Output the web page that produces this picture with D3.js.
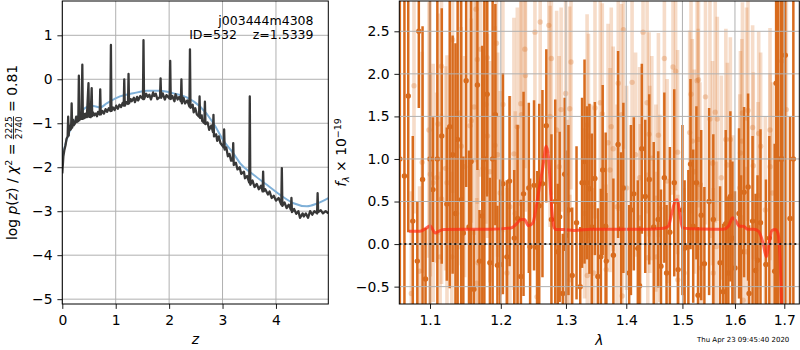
<!DOCTYPE html>
<html>
<head>
<meta charset="utf-8">
<script src="https://cdn.jsdelivr.net/npm/d3@7"></script>
<style>
  body { margin: 0; background: #fff; }
  svg { font-family: "DejaVu Sans", sans-serif; }
</style>
</head>
<body>
<div id="chart"></div>
<script>
// ---- left panel: log p(z) ----
const pzZ = [0,0.02,0.04,0.06,0.08,0.10,0.11,0.12,0.15,0.165,0.175,0.185,0.21,0.24,0.27,0.30,0.31,0.32,0.36,0.375,0.385,0.42,0.46,0.49,0.50,0.53,0.55,0.56,0.60,0.65,0.70,0.71,0.72,0.78,0.84,0.90,0.91,0.92,0.98,1.04,1.10,1.15,1.16,1.17,1.23,1.24,1.25,1.30,1.36,1.42,1.51,1.52,1.53,1.60,1.66,1.72,1.78,1.83,1.84,1.85,1.92,2.01,2.02,2.03,2.10,2.16,2.22,2.23,2.24,2.30,2.38,2.39,2.40,2.46,2.52,2.56,2.57,2.58,2.62,2.66,2.67,2.68,2.75,2.82,2.83,2.84,2.90,2.96,3.02,3.03,3.04,3.10,3.16,3.19,3.20,3.21,3.28,3.35,3.42,3.50,3.51,3.52,3.60,3.68,3.75,3.76,3.77,3.85,3.92,4.00,4.10,4.11,4.12,4.20,4.28,4.29,4.30,4.38,4.45,4.52,4.60,4.68,4.77,4.78,4.79,4.88,4.98];
const pzLog = [-2.14,-1.75,-1.60,-1.50,-1.35,-1.30,-0.85,-1.28,-1.15,-1.12,-0.55,-1.10,-1.05,-1.00,-0.97,-0.95,0.08,-0.93,-0.90,0.33,-0.90,-0.88,-0.86,-0.09,-0.85,-0.86,-0.20,-0.84,-0.82,-0.84,-0.80,-0.23,-0.80,-0.78,-0.74,-0.72,0.78,-0.72,-0.70,-0.67,-0.63,-0.60,0.00,-0.60,-0.56,0.12,-0.55,-0.50,-0.52,-0.48,-0.45,0.89,-0.45,-0.40,-0.46,-0.38,-0.45,-0.40,0.02,-0.42,-0.46,-0.44,0.42,-0.45,-0.50,-0.46,-0.50,0.00,-0.55,-0.55,-0.62,0.68,-0.65,-0.75,-0.80,-0.85,-0.39,-0.88,-0.95,-1.00,-0.51,-1.02,-1.15,-1.20,-0.81,-1.30,-1.40,-1.45,-1.55,-1.14,-1.60,-1.75,-1.85,-1.85,-1.45,-1.95,-2.05,-2.15,-2.25,-2.35,-0.39,-2.40,-2.45,-2.50,-2.55,-2.10,-2.55,-2.62,-2.70,-2.76,-2.85,-2.02,-2.88,-2.93,-2.97,-2.70,-3.02,-3.06,-3.15,-3.12,-3.15,-3.08,-3.05,-2.59,-3.02,-3.05,-3.05];
// small wiggles on top of the p(z) curve
const wiggleZ = [0.13,0.20,0.26,0.34,0.40,0.44,0.58,0.63,0.67,0.75,0.81,0.87,0.95,1.01,1.07,1.13,1.20,1.28,1.34,1.40,1.46,1.57,1.63,1.70,1.75,1.88,1.95,2.06,2.12,2.19,2.27,2.34,2.44,2.49,2.61,2.72,2.79,2.88,2.93,3.07,3.13,3.25,3.32,3.40,3.46,3.56,3.64,3.72,3.80,3.88,3.96,4.05,4.16,4.24,4.34,4.42,4.50,4.56,4.64,4.72,4.84,4.93];
const wiggleLog = [-1.05,-0.92,-0.85,-0.8,-0.78,-0.78,-0.76,-0.78,-0.74,-0.72,-0.68,-0.66,-0.64,-0.60,-0.58,-0.54,-0.52,-0.45,-0.42,-0.40,-0.38,-0.33,-0.35,-0.30,-0.33,-0.32,-0.36,-0.38,-0.34,-0.40,-0.42,-0.48,-0.58,-0.66,-0.82,-0.98,-1.05,-1.25,-1.30,-1.55,-1.70,-1.90,-2.0,-2.1,-2.2,-2.3,-2.38,-2.42,-2.5,-2.55,-2.65,-2.7,-2.8,-2.85,-2.95,-3.0,-3.05,-3.05,-3.0,-3.0,-2.98,-3.0];
const priorZ = [0,0.08,0.21,0.36,0.49,0.58,0.71,0.83,1.08,1.33,1.58,1.83,2.08,2.33,2.58,2.83,3.01,3.20,3.33,3.58,3.83,4.08,4.33,4.58,4.76,4.98];
const priorLog = [-1.76,-1.38,-1.00,-0.73,-0.62,-0.61,-0.64,-0.55,-0.39,-0.32,-0.26,-0.26,-0.32,-0.41,-0.62,-1.00,-1.38,-1.68,-1.91,-2.17,-2.40,-2.63,-2.82,-2.89,-2.83,-2.70];
const zTicks = [0, 1, 2, 3, 4];
const logTicks = [-5, -4, -3, -2, -1, 0, 1];

// ---- right panel: spectrum ----
const darkWave = [1.060,1.066,1.071,1.077,1.083,1.085,1.090,1.094,1.100,1.104,1.110,1.116,1.123,1.127,1.131,1.135,1.138,1.143,1.146,1.150,1.154,1.157,1.161,1.166,1.169,1.173,1.176,1.180,1.184,1.188,1.192,1.195,
  1.199,1.203,1.209,1.213,1.220,1.225,1.230,1.234,1.242,1.244,1.250,1.255,1.258,1.263,1.269,1.277,1.283,1.287,1.290,1.295,1.298,1.300,1.304,1.310,1.317,1.323,1.326,1.330,1.334,1.338,1.342,1.347,1.352,
  1.357,1.360,1.365,1.366,1.378,1.386,1.391,1.395,1.405,1.408,1.413,1.420,1.423,1.427,1.433,1.440,1.448,1.456,1.461,1.467,1.471,1.477,1.485,1.492,1.500,1.504,1.511,1.515,1.520,1.526,
  1.529,1.535,1.541,1.550,1.558,1.571,1.577,1.582,1.587,1.591,1.595,1.600,1.608,1.612,1.618,1.626,1.628,1.635,1.641,1.645,1.651,1.662,1.669,1.680,1.683,1.687,1.693,1.696,1.702,1.712,1.719];
const darkFlux = [1.0,0.8,1.74,0.27,-0.2,2.5,0.76,-0.41,1.0,0.64,1.0,1.27,0.47,1.38,1.05,0.36,1.23,0.52,0.13,1.92,0.2,0.97,-0.53,1.87,-0.2,0.33,1.0,1.76,-0.22,1.0,1.52,-0.25,
  -0.24,0.71,-0.15,0.74,0.07,0.3,-0.38,0.59,0.66,-0.03,0.69,-0.04,0.45,0.71,1.39,0.29,0.5,-0.09,0.32,-0.58,0.82,0.1,0.40,-0.37,0.25,-0.50,0.72,0.97,0.72,0.65,0.2,0.77,-0.38,
  -0.15,0.87,0.21,-0.20,-0.13,1.17,0.18,0.66,-0.34,0.40,0.59,-0.05,-0.49,1.12,0.56,0.76,0.2,0.29,-0.26,0.78,-0.34,0.14,0.72,-0.30,0.4,-0.05,-0.03,0.94,0.21,0.72,
  -0.60,0.34,-0.23,0.5,0.29,-0.22,-0.56,0.24,-0.34,0.56,0.07,-0.28,0.36,-0.09,0.61,0.67,-0.58,0.27,-0.31,-0.19,0.25,-0.24,0.07,-0.32,1.89,1.0,1.0,1.0,2.22,0.3,1.0];
const darkErr = [3.0,3.0,1.6,1.0,0.7,0.9,1.8,0.6,3.0,0.85,3.0,1.5,0.9,1.9,1.4,2.0,2.0,2.4,0.9,1.25,0.9,1.9,0.7,1.0,0.6,2.0,3.0,1.2,1.0,3.0,1.3,0.7,
  1.0,1.3,0.9,1.0,0.8,1.1,0.9,1.2,1.0,0.8,1.0,0.9,1.2,1.1,0.9,1.0,1.2,0.8,1.0,0.7,0.9,1.0,1.0,0.8,0.9,0.7,1.0,1.2,0.9,1.0,1.1,0.9,0.8,
  0.8,1.0,1.1,0.8,0.9,1.1,0.9,1.0,0.8,1.0,0.9,0.8,0.7,1.0,0.9,1.0,1.0,0.8,0.9,1.0,0.8,1.0,1.1,0.8,1.0,0.8,0.9,1.0,0.9,0.9,
  0.8,1.0,0.9,1.1,1.0,0.9,0.8,1.1,0.9,1.0,0.9,0.9,1.0,0.9,1.0,1.1,0.8,1.0,0.9,1.0,1.1,1.0,1.2,1.5,3.0,4.0,4.0,4.0,4.0,1.2,4.0];

const lightWave = [1.0751,1.0786,1.0860,1.0895,1.0986,1.1004,1.1043,1.1090,1.1110,1.1138,1.1156,1.1157,1.1213,1.1232,1.1299,1.1309,1.1366,1.1403,1.1431,1.1479,1.1555,1.1573,1.1612,1.1640,1.1650,1.1659,1.1669,1.1707,1.1744,1.1782,1.1801,1.1805,1.1839,1.1915,1.1935,1.1953,
  1.1991,1.2031,1.2092,1.2134,1.2195,1.2215,1.2246,1.2298,1.2308,1.2360,1.2369,1.2514,1.2545,1.2595,1.2729,1.2749,1.2769,1.2852,1.2892,1.2923,1.2995,1.3016,1.3060,1.3062,1.3081,1.3300,1.3342,1.3345,1.3364,1.3408,1.3451,1.3472,
  1.3560,1.3593,1.3658,1.3690,1.3723,1.3744,1.3777,1.3842,1.3863,1.3919,1.3930,1.3951,1.4005,1.4100,1.4161,1.4232,1.4243,1.4291,1.4363,1.4375,1.4398,1.4411,1.4446,1.4518,1.4529,1.4564,1.4589,1.4671,1.4720,1.4827,1.4875,1.4911,1.4915,1.5031,1.5134,1.5159,1.5184,1.5222,1.5273,
  1.5293,1.5299,1.5326,1.5350,1.5431,1.5516,1.5565,1.5580,1.5617,1.5637,1.5656,1.5734,1.5822,1.5852,1.5910,1.5962,1.5965,1.6095,1.6108,1.6136,1.6148,1.6162,1.6229,1.6231,1.6258,1.6351,1.6365,1.6460,1.6473,1.6513,1.6608,1.6704,1.6706,1.6756,1.6907,1.6947,1.7043];
const lightFlux = [-0.58,1.86,-0.32,0.96,1.34,0.82,0.72,0.78,1.41,-0.15,2.09,0.53,0.89,0.72,-0.15,2.40,0.36,1.54,1.15,0.91,1.39,1.45,1.61,2.76,-0.46,2.17,-0.22,2.29,0.89,1.64,2.19,1.27,0.85,1.16,2.36,1.05,
  0.60,1.64,-0.34,0.44,1.06,0.36,1.38,1.65,1.52,2.29,1.98,2.49,-0.62,2.61,2.57,1.50,2.18,1.34,0.91,1.58,1.77,0.36,1.59,-0.42,2.14,0.36,1.40,-0.37,1.27,0.44,-0.34,1.60,
  1.66,1.53,-0.30,1.19,0.87,1.38,1.12,0.44,1.89,1.52,-0.61,2.52,0.66,1.90,1.05,0.78,0.31,2.49,1.66,-0.16,1.29,0.76,1.01,0.54,-0.15,1.28,0.42,2.18,0.74,2.08,2.03,1.08,-0.42,-0.34,1.31,1.76,1.21,0.85,1.92,
  1.23,1.93,0.70,-0.28,1.73,1.47,0.95,-0.34,1.55,-0.03,1.47,0.78,1.23,0.93,1.23,0.28,-0.50,0.66,1.07,1.21,1.54,-0.66,1.48,-0.09,1.57,1.37,0.92,0.57,1.30,1.15,0.40,1.34,0.91,0.60,1.54,2.15,1.58];
const lightErr = [1.2,1.5,1.0,1.3,1.5,1.2,1.4,1.0,1.3,1.0,1.6,1.0,1.2,1.5,1.0,1.8,1.2,1.6,1.4,1.3,1.5,1.2,1.5,1.8,1.0,1.7,1.1,1.5,1.4,1.4,1.6,1.2,1.3,1.4,1.6,1.2,
  1.2,1.5,1.0,1.3,1.6,1.2,1.4,1.2,1.5,1.4,1.6,1.5,1.0,1.6,1.5,1.3,1.6,1.4,1.3,1.2,1.6,1.1,1.2,1.0,1.5,1.0,1.3,1.0,1.2,1.2,1.0,1.3,
  1.5,1.3,1.0,1.4,1.2,1.4,1.2,1.2,1.5,1.3,1.0,1.4,1.2,1.4,1.2,1.3,1.1,1.5,1.3,1.0,1.2,1.1,1.2,1.1,1.0,1.2,1.1,1.4,1.2,1.5,1.4,1.2,1.0,1.0,1.2,1.4,1.2,1.2,1.4,
  1.3,1.5,1.2,1.0,1.5,1.4,1.2,1.0,1.3,1.0,1.2,1.2,1.3,1.2,1.2,1.0,1.0,1.1,1.2,1.2,1.3,1.0,1.3,1.0,1.3,1.2,1.1,1.1,1.2,1.1,1.1,1.2,1.1,1.3,2.5,3.0,3.0];

const modelWave = [1.0718,1.0864,1.0955,1.1000,1.1024,1.1071,1.1118,1.1189,1.1474,1.1853,1.2149,1.2226,1.2303,1.2354,1.2415,1.2483,1.2534,1.2585,1.2637,1.2688,1.2723,1.2765,1.2806,1.2842,1.2969,1.3130,1.3402,1.3782,1.4357,1.4654,1.4743,1.4804,1.4863,1.4904,1.4952,1.5000,1.5140,1.5586,1.5777,1.5872,1.5956,1.6020,1.6087,1.6168,1.6249,1.6371,1.6473,1.6562,1.6629,1.6684,1.6744,1.6811,1.6866,1.6913,1.6947];
const modelFlux = [0.15,0.15,0.19,0.215,0.19,0.13,0.15,0.17,0.175,0.175,0.19,0.23,0.29,0.29,0.215,0.25,0.44,0.68,0.91,1.15,1.03,0.52,0.21,0.17,0.17,0.16,0.175,0.175,0.175,0.185,0.21,0.36,0.50,0.52,0.36,0.19,0.18,0.175,0.175,0.21,0.31,0.27,0.21,0.21,0.175,0.175,0.15,0.01,-0.15,0.01,0.16,0.17,0.13,-0.18,-0.8];
const waveTicks = [1.1, 1.2, 1.3, 1.4, 1.5, 1.6, 1.7];
const fluxTicks = [-0.5, 0, 0.5, 1.0, 1.5, 2.0, 2.5];

const W = 800, H = 350;
const tickFont = "13.9px";
const orange = "#d86b1d";
const gridColor = "#b0b0b0";

const svg = d3.select("#chart").append("svg")
  .attr("width", W).attr("height", H);

const defs = svg.append("defs");
defs.append("clipPath").attr("id", "clipL").append("rect")
  .attr("x", 62.3).attr("y", 1).attr("width", 266).attr("height", 303);
defs.append("clipPath").attr("id", "clipR").append("rect")
  .attr("x", 399.3).attr("y", 1).attr("width", 400).attr("height", 303);

// scales
const lx = d3.scaleLinear().domain([0, 4.98]).range([62.3, 328.3]);
const ly = d3.scaleLinear().domain([-5.11, 1.78]).range([304, 1]);
const rx = d3.scaleLog().domain([1.0593, 1.7316]).range([399.3, 799.3]);
const ry = d3.scaleLinear().domain([-0.704, 2.856]).range([304, 1]);

function grid(g, xs, ys, xt, yt) {
  g.selectAll(".gx").data(xt).join("line")
    .attr("x1", d => xs(d)).attr("x2", d => xs(d))
    .attr("y1", ys.range()[0]).attr("y2", ys.range()[1])
    .attr("stroke", gridColor).attr("stroke-width", 1);
  g.selectAll(".gy").data(yt).join("line")
    .attr("y1", d => ys(d)).attr("y2", d => ys(d))
    .attr("x1", xs.range()[0]).attr("x2", xs.range()[1])
    .attr("stroke", gridColor).attr("stroke-width", 1);
}

function axes(xs, ys, xt, yt, xfmt, yfmt) {
  const gx = svg.append("g").attr("transform", `translate(0,${ys.range()[0]})`)
    .call(d3.axisBottom(xs).tickValues(xt).tickFormat(xfmt).tickSize(4.9).tickPadding(6.6));
  const gy = svg.append("g").attr("transform", `translate(${xs.range()[0]},0)`)
    .call(d3.axisLeft(ys).tickValues(yt).tickFormat(yfmt).tickSize(4.9).tickPadding(4.9));
  [gx, gy].forEach(g => {
    g.select(".domain").remove();
    g.selectAll("text").style("font-size", tickFont).style("font-family", "DejaVu Sans").attr("fill", "#000");
    g.selectAll("line").attr("stroke", "#000").attr("stroke-width", 0.9);
  });
  svg.append("rect")
    .attr("x", xs.range()[0]).attr("y", ys.range()[1])
    .attr("width", xs.range()[1] - xs.range()[0])
    .attr("height", ys.range()[0] - ys.range()[1])
    .attr("fill", "none").attr("stroke", "#000").attr("stroke-width", 1);
}

// ---- left panel ----
const gl = svg.append("g");
grid(gl, lx, ly, zTicks, logTicks);

const plotL = svg.append("g").attr("clip-path", "url(#clipL)");
const pzPts = pzZ.map((z, i) => [z, pzLog[i]])
  .concat(wiggleZ.map((z, i) => [z, wiggleLog[i]]))
  .sort((a, b) => a[0] - b[0]);
plotL.append("path")
  .datum(priorZ.map((z, i) => [z, priorLog[i]]))
  .attr("d", d3.line().x(d => lx(d[0])).y(d => ly(d[1])).curve(d3.curveMonotoneX))
  .attr("fill", "none").attr("stroke", "#7fb0d8").attr("stroke-width", 2);
plotL.append("path")
  .datum(pzPts)
  .attr("d", d3.line().x(d => lx(d[0])).y(d => ly(d[1])))
  .attr("fill", "none").attr("stroke", "#383838").attr("stroke-width", 2.3)
  .attr("stroke-linejoin", "round");

axes(lx, ly, zTicks, logTicks, d3.format("d"), d3.format("d"));

svg.append("text").attr("x", 313.5).attr("y", 24.5)
  .attr("text-anchor", "end").style("font-size", "12.5px").text("j003444m4308");
svg.append("text").attr("x", 313.5).attr("y", 39)
  .attr("text-anchor", "end").style("font-size", "12.5px").attr("xml:space", "preserve")
  .text("ID=532    z=1.5339");

svg.append("text").attr("x", 195.3).attr("y", 344)
  .attr("text-anchor", "middle").style("font-size", tickFont).style("font-style", "italic").text("z");

// y label with fraction
const yl = svg.append("g").attr("transform", "translate(17,0) rotate(-90)");
const pieces = [
  { t: "log ", it: false },
  { t: "p", it: true },
  { t: "(", it: false },
  { t: "z", it: true },
  { t: ") / ", it: false },
  { t: "χ", it: true },
  { t: "2", it: false, size: 9.5, dy: -5.5 },
  { t: " = ", it: false },
  { frac: ["2225", "2740"] },
  { t: " = 0.81", it: false }
];
let cx = 0;
pieces.forEach(p => {
  if (p.frac) {
    const a = yl.append("text").attr("x", cx).attr("y", -5).style("font-size", "9px").text(p.frac[0]);
    const b = yl.append("text").attr("x", cx).attr("y", 4.5).style("font-size", "9px").text(p.frac[1]);
    const w = Math.max(a.node().getComputedTextLength(), b.node().getComputedTextLength());
    yl.append("line").attr("x1", cx).attr("x2", cx + w).attr("y1", -3.5).attr("y2", -3.5)
      .attr("stroke", "#000").attr("stroke-width", 0.8);
    cx += w;
  } else {
    const t = yl.append("text").attr("x", cx).attr("y", p.dy || 0)
      .attr("xml:space", "preserve")
      .style("font-size", (p.size || 13.9) + "px")
      .style("font-style", p.it ? "italic" : "normal").text(p.t);
    cx += t.node().getComputedTextLength();
  }
});
yl.selectAll("text,line").attr("transform", `translate(${-152.5 - cx / 2},0)`);

// ---- right panel ----
const gr = svg.append("g");

const plotR = svg.append("g").attr("clip-path", "url(#clipR)");
const light = lightWave.map((w, i) => ({ w, f: lightFlux[i], e: lightErr[i] }));
const dark = darkWave.map((w, i) => ({ w, f: darkFlux[i], e: darkErr[i] }));

plotR.append("g").selectAll("line").data(light).join("line")
  .attr("x1", d => rx(d.w)).attr("x2", d => rx(d.w))
  .attr("y1", d => ry(d.f - d.e)).attr("y2", d => ry(d.f + d.e))
  .attr("stroke", orange).attr("stroke-opacity", 0.24).attr("stroke-width", 3.6);
plotR.append("g").selectAll("circle").data(light).join("circle")
  .attr("cx", d => rx(d.w)).attr("cy", d => ry(d.f)).attr("r", 2.7)
  .attr("fill", orange).attr("fill-opacity", 0.28);

plotR.append("g").selectAll("line").data(dark).join("line")
  .attr("x1", d => rx(d.w)).attr("x2", d => rx(d.w))
  .attr("y1", d => ry(d.f - d.e)).attr("y2", d => ry(d.f + d.e))
  .attr("stroke", orange).attr("stroke-width", 2.5);
plotR.append("g").selectAll("circle").data(dark).join("circle")
  .attr("cx", d => rx(d.w)).attr("cy", d => ry(d.f)).attr("r", 2.7)
  .attr("fill", orange);

grid(gr.raise(), rx, ry, waveTicks, fluxTicks);

plotR.append("path")
  .datum(modelWave.map((w, i) => [w, modelFlux[i]]))
  .attr("d", d3.line().x(d => rx(d[0])).y(d => ry(d[1])).curve(d3.curveMonotoneX))
  .attr("fill", "none").attr("stroke", "#ff2a14").attr("stroke-opacity", 0.7)
  .attr("stroke-width", 3).attr("stroke-linejoin", "round");
svg.append("line")
  .attr("x1", rx.range()[0]).attr("x2", rx.range()[1])
  .attr("y1", ry(0)).attr("y2", ry(0))
  .attr("stroke", "#000").attr("stroke-width", 2).attr("stroke-dasharray", "2,3").attr("stroke-opacity", 0.85);

axes(rx, ry, waveTicks, fluxTicks, d3.format(".1f"), d3.format(".1f"));

svg.append("text").attr("x", 599.3).attr("y", 345)
  .attr("text-anchor", "middle").style("font-size", tickFont).style("font-style", "italic").text("λ");

const rl = svg.append("text").attr("transform", "translate(346,152.5) rotate(-90)")
  .attr("text-anchor", "middle").style("font-size", tickFont);
rl.append("tspan").style("font-style", "italic").text("f");
rl.append("tspan").style("font-style", "italic").style("font-size", "9.5px").attr("dy", 3).text("λ");
rl.append("tspan").attr("dy", -3).text(" × 10");
rl.append("tspan").style("font-size", "9.5px").attr("dy", -5.5).text("−19");

svg.append("text").attr("x", 697).attr("y", 342).style("font-size", "7px")
  .text("Thu Apr 23 09:45:40 2020");
</script>
</body>
</html>
